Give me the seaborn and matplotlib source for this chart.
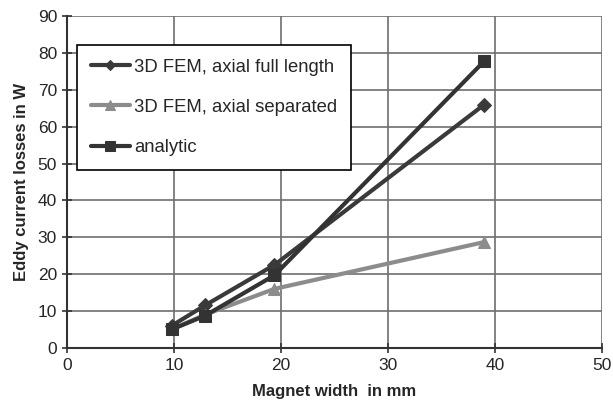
import pandas as pd
import seaborn as sns
import matplotlib.pyplot as plt

# Data
width_mm = [9.8, 12.9, 19.4, 39.0]
full_length = [6.0, 11.5, 22.5, 66.0]
separated = [5.0, 9.0, 16.0, 28.7]
analytic = [5.0, 8.7, 19.7, 77.8]

df = pd.DataFrame({
    'width': width_mm * 3,
    'loss': full_length + separated + analytic,
    'series': (['3D FEM, axial full length'] * 4 + ['3D FEM, axial separated'] * 4
               + ['analytic'] * 4),
})

sns.set_style('white')
plt.rcParams['font.family'] = ['Liberation Sans', 'DejaVu Sans']

fig = plt.figure(figsize=(6.13, 4.04), dpi=100)
ax = fig.add_axes([0.109, 0.139, 0.873, 0.821])

palette = {'3D FEM, axial full length': '#3a3a3a',
           '3D FEM, axial separated': '#8c8c8c',
           'analytic': '#333333'}
markers = {'3D FEM, axial full length': 'D',
           '3D FEM, axial separated': '^',
           'analytic': 's'}
sizes = {'3D FEM, axial full length': 7, '3D FEM, axial separated': 9, 'analytic': 9}

for name, grp in df.groupby('series', sort=False):
    sns.lineplot(data=grp, x='width', y='loss', ax=ax, color=palette[name],
                 marker=markers[name], markersize=sizes[name], linewidth=3,
                 markeredgecolor=palette[name], label=name)

ax.set_xlim(0, 50)
ax.set_ylim(0, 90)
ax.set_xticks(range(0, 51, 10))
ax.set_yticks(range(0, 91, 10))
ax.grid(True, color='#6e6e6e', linewidth=1.2)
ax.set_axisbelow(True)
for s in ['top', 'right']:
    ax.spines[s].set_visible(False)
for s in ['left', 'bottom']:
    ax.spines[s].set_color('#333333')
    ax.spines[s].set_linewidth(1.5)
ax.tick_params(axis='both', direction='inout', length=7, width=1.2, color='#333333',
               labelsize=12.5, bottom=True, left=True)

ax.set_xlabel('Magnet width  in mm', fontsize=12, fontweight='bold', labelpad=8)
ax.set_ylabel('Eddy current losses in W', fontsize=12, fontweight='bold', labelpad=6)

leg = ax.legend(loc='upper left', bbox_to_anchor=(0.019, 0.913), borderaxespad=0,
                fontsize=13.3, frameon=True, fancybox=False, edgecolor='black',
                framealpha=1, handlelength=2.1, handletextpad=0.25,
                labelspacing=1.25, borderpad=0.75, markerscale=0.75)
leg.get_frame().set_linewidth(1.2)

fig.savefig('out.png', dpi=100)
